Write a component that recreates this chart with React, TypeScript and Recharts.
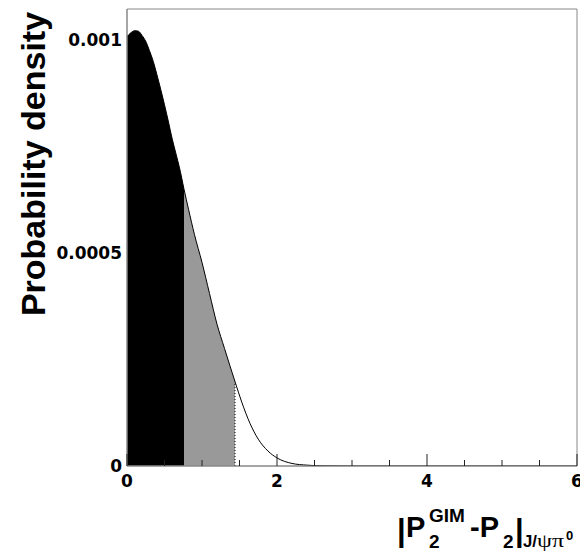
import React from "react";
import {
  ComposedChart,
  Area,
  Line,
  XAxis,
  YAxis,
  ReferenceLine,
  ReferenceArea,
} from "recharts";

// |P2^GIM - P2| values (x) and probability density (y)
const xValues = [
  0, 0.05, 0.1, 0.15, 0.2, 0.25, 0.3, 0.35, 0.4, 0.45, 0.5, 0.55, 0.6, 0.65,
  0.7, 0.76, 0.82, 0.9, 1.0, 1.1, 1.2, 1.3, 1.44, 1.53, 1.64, 1.75, 1.88, 2.0,
  2.2, 2.4, 2.6, 3.0, 6.0,
];
const densityValues = [
  0.001008, 0.001017, 0.001022, 0.001021, 0.001011, 0.000997, 0.000975,
  0.00095, 0.000918, 0.000884, 0.000848, 0.00081, 0.00077, 0.000735, 0.0007,
  0.00065, 0.000603, 0.000543, 0.000478, 0.000405, 0.000333, 0.000276,
  0.000198, 0.00015, 0.0001, 0.000063, 0.000035, 0.000019, 0.000006, 0.000002,
  0.0000005, 0, 0,
];

// shaded region boundaries
const BLACK_END = 0.76;
const GRAY_END = 1.44;

const xMajorTicks = [0, 2, 4, 6];
const xMinorTicks = [0.5, 1, 1.5, 2.5, 3, 3.5, 4.5, 5, 5.5];
const xTicks = [...xMajorTicks, ...xMinorTicks].sort((a, b) => a - b);
const yTicks = [0, 0.0005, 0.001];
const yTickLabels = ["0", "0.0005", "0.001"];
const X_MAX = 6;
const Y_MAX = 0.001073;

const data = xValues.map((x, i) => ({
  x,
  all: densityValues[i],
  black: x <= BLACK_END ? densityValues[i] : null,
  gray: x >= BLACK_END && x <= GRAY_END ? densityValues[i] : null,
}));
const grayEndValue = densityValues[xValues.indexOf(GRAY_END)];

const TICK_FONT = "'DejaVu Sans', sans-serif";
const TITLE_FONT = "'Liberation Sans', Arial, sans-serif";

const XTick = (props: any) => {
  const { x, y, payload } = props;
  const major = xMajorTicks.includes(payload.value);
  return (
    <g>
      <line x1={x} x2={x} y1={y} y2={y - (major ? 12 : 6)} stroke="#222" strokeWidth={1} />
      {major && (
        <text
          x={x}
          y={y + 21}
          textAnchor="middle"
          fontFamily={TICK_FONT}
          fontWeight="bold"
          fontSize={17}
          fill="#000"
        >
          {String(payload.value)}
        </text>
      )}
    </g>
  );
};

const YTick = (props: any) => {
  const { x, y, payload } = props;
  const idx = yTicks.indexOf(payload.value);
  return (
    <text
      x={x}
      y={y}
      dy="0.36em"
      textAnchor="end"
      fontFamily={TICK_FONT}
      fontWeight="bold"
      fontSize={17}
      fill="#000"
    >
      {idx >= 0 ? yTickLabels[idx] : String(payload.value)}
    </text>
  );
};

export default function App() {
  return (
    <div
      style={{
        position: "absolute",
        left: 0,
        top: 0,
        width: 580,
        height: 551,
        background: "#fff",
      }}
    >
      <ComposedChart
        width={580}
        height={551}
        data={data}
        margin={{ top: 9, right: 3, bottom: 0, left: 0 }}
      >
        <Area
          type="monotone"
          dataKey="black"
          stroke="none"
          fill="#000"
          fillOpacity={1}
          isAnimationActive={false}
          dot={false}
          activeDot={false}
        />
        <Area
          type="monotone"
          dataKey="gray"
          stroke="none"
          fill="#999999"
          fillOpacity={1}
          isAnimationActive={false}
          dot={false}
          activeDot={false}
        />
        <Line
          type="monotone"
          dataKey="all"
          stroke="#000"
          strokeWidth={1}
          dot={false}
          activeDot={false}
          isAnimationActive={false}
        />
        <ReferenceLine
          segment={[
            { x: GRAY_END, y: 0 },
            { x: GRAY_END, y: grayEndValue },
          ]}
          stroke="#000"
          strokeDasharray="1 2"
          ifOverflow="visible"
        />
        <ReferenceArea
          x1={0}
          x2={X_MAX}
          y1={0}
          y2={Y_MAX}
          fill="none"
          stroke="#888"
          strokeWidth={1}
          ifOverflow="visible"
        />
        <XAxis
          dataKey="x"
          type="number"
          domain={[0, X_MAX]}
          ticks={xTicks}
          interval={0}
          height={85}
          tickSize={0}
          tickMargin={0}
          tickLine={false}
          axisLine={{ stroke: "#888" }}
          tick={<XTick />}
          allowDataOverflow
        />
        <YAxis
          type="number"
          domain={[0, Y_MAX]}
          ticks={yTicks}
          interval={0}
          width={127}
          tickSize={0}
          tickMargin={5}
          tickLine={false}
          axisLine={{ stroke: "#888" }}
          tick={<YTick />}
          allowDataOverflow
        />
      </ComposedChart>
      <svg
        width={580}
        height={551}
        style={{ position: "absolute", left: 0, top: 0, pointerEvents: "none" }}
      >
        <text
          x={45}
          y={164}
          transform="rotate(-90 45 164)"
          textAnchor="middle"
          fontFamily={TITLE_FONT}
          fontWeight="bold"
          fontSize={34}
          fill="#000"
        >
          Probability density
        </text>
        <g fontFamily={TITLE_FONT} fontWeight="bold" fill="#000">
          <text x={397} y={541} fontSize={31}>|</text>
          <text x={406} y={537} fontSize={29}>P</text>
          <text x={429} y={522} fontSize={19}>GIM</text>
          <text x={429} y={548} fontSize={19}>2</text>
          <text x={470} y={537} fontSize={29}>-P</text>
          <text x={503} y={548} fontSize={19}>2</text>
          <text x={515} y={541} fontSize={31}>|</text>
          <text x={523} y={547} fontSize={16} textLength={14} lengthAdjust="spacingAndGlyphs">J/</text>
          <text
            x={537}
            y={547}
            fontSize={19}
            fontWeight="normal"
            fontFamily="'Liberation Serif', serif"
            textLength={27}
            lengthAdjust="spacingAndGlyphs"
          >
            ψπ
          </text>
          <text x={566} y={540} fontSize={13}>0</text>
        </g>
      </svg>
    </div>
  );
}
